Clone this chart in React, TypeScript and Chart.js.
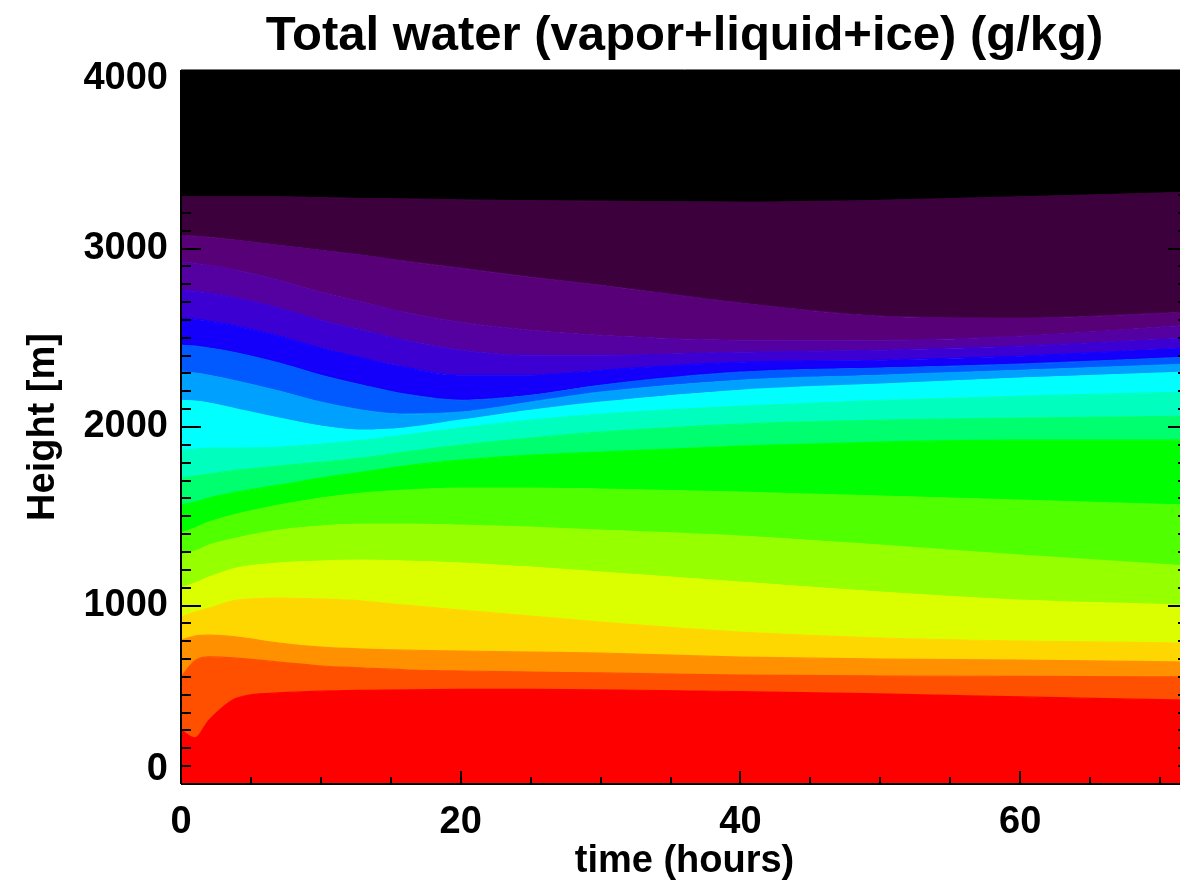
import React, { useEffect, useRef } from 'react';
import { Chart, registerables } from 'chart.js';

Chart.register(...registerables);

// time axis (hours) where contour boundaries are sampled
const TIMES = [0, 1, 2, 4, 7, 10, 13, 16, 20, 25, 30, 40, 50, 60, 72];

// Contour boundaries (height in m), from bottom to top
const B1 = [302, 258, 358, 482, 510, 520, 525, 528, 530, 530, 528, 518, 505, 488, 470];
const B2 = [600, 690, 712, 705, 683, 661, 650, 640, 633, 627, 622, 610, 605, 603, 600];
const B3 = [806, 829, 834, 823, 790, 767, 756, 750, 745, 739, 734, 711, 700, 694, 683];
const B4 = [935, 963, 986, 1030, 1042, 1036, 1025, 1002, 974, 941, 907, 851, 818, 801, 790];
const B5 = [1098, 1126, 1159, 1210, 1238, 1249, 1254, 1249, 1238, 1215, 1187, 1131, 1075, 1030, 1002];
const B6 = [1282, 1305, 1338, 1378, 1422, 1445, 1456, 1456, 1450, 1439, 1422, 1389, 1338, 1282, 1221];
const B7 = [1406, 1434, 1467, 1512, 1562, 1602, 1630, 1646, 1658, 1658, 1652, 1635, 1613, 1590, 1562];
const B8 = [1562, 1579, 1602, 1635, 1674, 1714, 1747, 1781, 1814, 1842, 1859, 1893, 1915, 1926, 1926];
const B9 = [1714, 1725, 1736, 1758, 1781, 1803, 1826, 1859, 1898, 1938, 1971, 2016, 2038, 2050, 2061];
const B10 = [1870, 1876, 1882, 1882, 1887, 1904, 1926, 1954, 1994, 2038, 2072, 2117, 2150, 2173, 2195];
const B11 = [2150, 2145, 2134, 2100, 2050, 2005, 1982, 1994, 2038, 2094, 2139, 2206, 2240, 2274, 2307];
const B12 = [2307, 2302, 2290, 2257, 2201, 2139, 2094, 2072, 2083, 2139, 2195, 2262, 2290, 2318, 2352];
const B13 = [2458, 2453, 2442, 2414, 2358, 2290, 2234, 2184, 2150, 2178, 2234, 2307, 2330, 2352, 2391];
const B14 = [2610, 2604, 2593, 2565, 2509, 2442, 2386, 2335, 2290, 2290, 2318, 2363, 2374, 2397, 2442];
const B15 = [2766, 2761, 2750, 2722, 2666, 2598, 2542, 2486, 2430, 2402, 2402, 2419, 2430, 2453, 2498];
const B16 = [2923, 2918, 2906, 2878, 2822, 2755, 2699, 2643, 2587, 2542, 2514, 2486, 2486, 2509, 2570];
const B17 = [3074, 3069, 3063, 3046, 3018, 2990, 2962, 2929, 2890, 2839, 2794, 2694, 2621, 2610, 2643];
const B18 = [3290, 3290, 3290, 3290, 3290, 3285, 3280, 3278, 3272, 3268, 3265, 3260, 3270, 3290, 3315];

const BOUNDARIES = [B1, B2, B3, B4, B5, B6, B7, B8, B9, B10, B11, B12, B13, B14, B15, B16, B17, B18];

// band colours, bottom to top (19 bands)
const BAND_COLORS = [
  'rgb(255,0,0)',
  'rgb(255,80,0)',
  'rgb(255,145,0)',
  'rgb(255,215,0)',
  'rgb(220,255,0)',
  'rgb(150,255,0)',
  'rgb(80,255,0)',
  'rgb(0,255,0)',
  'rgb(0,255,110)',
  'rgb(0,255,190)',
  'rgb(0,255,255)',
  'rgb(0,160,255)',
  'rgb(0,90,255)',
  'rgb(20,0,250)',
  'rgb(60,0,210)',
  'rgb(85,0,160)',
  'rgb(88,0,120)',
  'rgb(60,0,60)',
  'rgb(0,0,0)',
];

const X_TICKS = [0, 20, 40, 60];
const Y_TICKS = [0, 1000, 2000, 3000, 4000];
const TITLE = 'Total water (vapor+liquid+ice) (g/kg)';
const X_TITLE = 'time (hours)';
const Y_TITLE = 'Height [m]';

const FONT = '"Liberation Sans", Arial, Helvetica, sans-serif';

const decorPlugin = {
  id: 'decor',
  afterDraw(chart: any) {
    const { ctx, chartArea, scales } = chart;
    const { left, right, top, bottom } = chartArea;
    const x = scales.x;
    const y = scales.y;
    ctx.save();
    ctx.strokeStyle = '#000';
    ctx.lineWidth = 2;
    const line = (x1: number, y1: number, x2: number, y2: number) => {
      ctx.beginPath();
      ctx.moveTo(x1, y1);
      ctx.lineTo(x2, y2);
      ctx.stroke();
    };
    // y ticks (left and right, pointing inward)
    for (let v = 0; v <= 4000; v += 100) {
      const py = Math.round(y.getPixelForValue(v));
      const len = v % 1000 === 0 ? 20 : 10;
      line(left, py, left + len, py);
      line(right, py, right - len, py);
    }
    // x ticks (bottom, pointing up)
    for (let v = 0; v <= 72; v += 5) {
      const px = Math.round(x.getPixelForValue(v));
      const len = v % 20 === 0 ? 13 : 7;
      line(px, bottom, px, bottom - len);
    }
    // frame
    ctx.lineWidth = 2;
    line(left, top, left, bottom);
    line(left, bottom, right, bottom);
    line(right, top, right, bottom);
    ctx.lineWidth = 1;
    ctx.strokeStyle = '#777';
    line(left, top - 0.5, right, top - 0.5);

    // tick labels
    ctx.fillStyle = '#000';
    ctx.font = `bold 38px ${FONT}`;
    ctx.textAlign = 'right';
    ctx.textBaseline = 'middle';
    for (const v of Y_TICKS) {
      let py = y.getPixelForValue(v);
      py = Math.min(Math.max(py, top + 9), bottom - 14);
      ctx.fillText(String(v), 168, py);
    }
    ctx.textAlign = 'center';
    ctx.textBaseline = 'alphabetic';
    for (const v of X_TICKS) {
      const px = x.getPixelForValue(v);
      ctx.fillText(String(v), px, bottom + 49);
    }
    // axis titles
    ctx.font = `bold 38px ${FONT}`;
    ctx.fillText(X_TITLE, (left + right) / 2, 872);
    ctx.save();
    ctx.translate(44, (top + bottom) / 2);
    ctx.rotate(-Math.PI / 2);
    ctx.textBaseline = 'middle';
    ctx.fillText(Y_TITLE, 0, 0);
    ctx.restore();
    // main title
    ctx.font = `bold 49px ${FONT}`;
    ctx.textBaseline = 'alphabetic';
    ctx.fillText(TITLE, (left + right) / 2, 50);
    ctx.restore();
  },
};

export default function App() {
  const canvasRef = useRef<HTMLCanvasElement | null>(null);

  useEffect(() => {
    const canvas = canvasRef.current;
    if (!canvas) return;
    const datasets: any[] = BOUNDARIES.map((b, i) => ({
      data: TIMES.map((t, j) => ({ x: t, y: b[j] })),
      fill: i === 0 ? 'start' : '-1',
      backgroundColor: BAND_COLORS[i],
      borderColor: BAND_COLORS[i],
      borderWidth: 1.2,
      pointRadius: 0,
      cubicInterpolationMode: 'monotone',
    }));
    // top (black) band, from last boundary up to the top of the axis
    datasets.push({
      data: TIMES.map((t, j) => ({ x: t, y: B18[j] })),
      fill: 'end',
      backgroundColor: BAND_COLORS[18],
      borderColor: BAND_COLORS[18],
      borderWidth: 1,
      pointRadius: 0,
      cubicInterpolationMode: 'monotone',
    });

    const chart = new Chart(canvas, {
      type: 'line',
      data: { datasets },
      options: {
        animation: false,
        responsive: false,
        devicePixelRatio: 1,
        layout: { padding: { left: 181, right: 12, top: 70, bottom: 104 } },
        scales: {
          x: { type: 'linear', min: 0, max: 72, display: false },
          y: { type: 'linear', min: 0, max: 4000, display: false },
        },
        plugins: {
          legend: { display: false },
          tooltip: { enabled: false },
          title: { display: false },
        },
        elements: { line: { tension: 0.4 } },
      },
      plugins: [decorPlugin],
    } as any);
    return () => chart.destroy();
  }, []);

  return (
    <div
      style={{
        position: 'fixed',
        left: 0,
        top: 0,
        width: 1180,
        height: 888,
        overflow: 'hidden',
        background: '#fff',
      }}
    >
      <canvas ref={canvasRef} width={1200} height={888} style={{ display: 'block' }} />
    </div>
  );
}
